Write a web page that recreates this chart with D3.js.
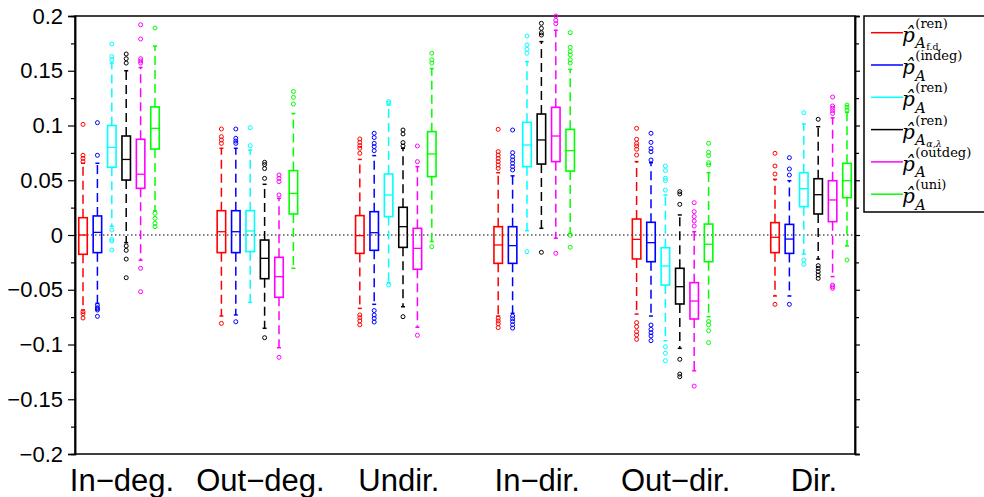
<!DOCTYPE html>
<html lang="en">
<head>
  <meta charset="UTF-8">
  <title>Boxplots by graph type</title>
  <script src="https://d3js.org/d3.v7.min.js"></script>
  <style>
    body { margin: 0; padding: 0; background: #fff; }
    svg { display: block; }
    .tick text { font-family: "Liberation Sans", Arial, sans-serif; }
  </style>
</head>
<body>
  <svg id="chart" width="984" height="497"></svg>

  <script>
    const groups = ["In\u2212deg.", "Out\u2212deg.", "Undir.", "In\u2212dir.", "Out\u2212dir.", "Dir."];
    const series = ["fd", "indeg", "ren", "alpha", "outdeg", "uni"];
    const colors = ["#ff0000", "#0000ff", "#00ffff", "#000000", "#ff00ff", "#00ff00"];

    const legendSup = ["(ren)", "(indeg)", "(ren)", "(ren)", "(outdeg)", "(uni)"];
    const legendSubSub = ["f.d.", "", "", "\u03b1,\u03bb", "", ""];

    // rows = groups, columns = series (same order as colors)
    const whiskLo = [
      [-0.0685, -0.0624, 0.008, -0.007, -0.023, 0.022],
      [-0.074, -0.073, -0.0615, -0.0852, -0.1029, -0.0304],
      [-0.067, -0.0633, -0.0435, -0.0655, -0.0843, -0.006],
      [-0.074, -0.0715, 0.0039, 0.0061, -0.003, 0.0015],
      [-0.0722, -0.074, -0.0965, -0.1035, -0.124, -0.0746],
      [-0.0557, -0.0557, -0.0174, -0.022, -0.038, -0.01]
    ];
    const q1 = [
      [-0.0176, -0.0161, 0.0618, 0.0502, 0.0426, 0.0785],
      [-0.0161, -0.0161, -0.0152, -0.0399, -0.0569, 0.0192],
      [-0.0168, -0.014, 0.0168, -0.0113, -0.0313, 0.0533],
      [-0.0259, -0.0259, 0.0624, 0.0648, 0.067, 0.0584],
      [-0.0219, -0.0244, -0.0457, -0.063, -0.0767, -0.0244],
      [-0.0161, -0.0168, 0.0259, 0.0192, 0.0122, 0.0341]
    ];
    const median = [
      [0.0, 0.0024, 0.080, 0.069, 0.0555, 0.0974],
      [0.003, 0.003, 0.0037, -0.0213, -0.038, 0.038],
      [-0.0006, 0.0021, 0.0365, 0.0076, -0.0122, 0.074],
      [-0.0091, -0.0097, 0.0822, 0.0868, 0.0904, 0.077],
      [-0.004, -0.007, -0.0283, -0.0472, -0.0603, -0.0085],
      [-0.0021, -0.0037, 0.0423, 0.0368, 0.032, 0.0496]
    ];
    const q3 = [
      [0.0158, 0.0174, 0.100, 0.0904, 0.0874, 0.117],
      [0.0222, 0.0222, 0.0222, -0.0046, -0.0204, 0.0588],
      [0.0177, 0.0213, 0.0557, 0.0253, 0.0061, 0.0944],
      [0.0076, 0.0076, 0.1029, 0.1105, 0.1166, 0.0965],
      [0.0146, 0.0116, -0.0116, -0.0304, -0.0435, 0.01],
      [0.0113, 0.0097, 0.0569, 0.0514, 0.0496, 0.0655]
    ];
    const whiskHi = [
      [0.0655, 0.0655, 0.157, 0.150, 0.153, 0.1726],
      [0.0792, 0.0792, 0.0776, 0.0463, 0.0335, 0.111],
      [0.069, 0.0725, 0.1187, 0.0792, 0.0624, 0.152],
      [0.0569, 0.054, 0.1583, 0.1766, 0.187, 0.1513],
      [0.067, 0.066, 0.0365, 0.0183, 0.003, 0.0569],
      [0.0508, 0.0496, 0.1014, 0.0989, 0.107, 0.112]
    ];
    const outliers = [
      [
        [0.101, 0.0728, 0.070, 0.067, -0.070, -0.072, -0.0758],
        [0.1026, 0.0728, -0.0642, -0.0664, -0.0673, -0.0685, -0.0743],
        [0.1744, 0.163, 0.16, 0.0046, -0.004, -0.0055, -0.0137],
        [0.1653, 0.161, 0.157, -0.010, -0.014, -0.022, -0.039],
        [0.192, 0.179, 0.161, 0.159, 0.157, -0.0304, -0.0518],
        [0.189, 0.0198, 0.0152, 0.0107, 0.0076]
      ],
      [
        [0.0968, 0.0898, 0.0868, 0.0837, -0.0807],
        [0.0968, 0.0883, 0.0858, 0.0837, -0.0792],
        [0.098, 0.0816],
        [0.0664, 0.0643, 0.0607, 0.0517, -0.0938],
        [0.0548, 0.0518, 0.0488, 0.0366, -0.1117],
        [0.131, 0.1257, 0.1196]
      ],
      [
        [0.0877, 0.0846, 0.0816, 0.0792, 0.0746, -0.073, -0.0755, -0.0785, -0.082],
        [0.0929, 0.089, 0.0837, 0.0807, 0.077, -0.069, -0.0731, -0.0761, -0.0795],
        [0.1218, 0.1203, -0.0457],
        [0.0959, 0.0923, 0.0844, 0.0813, -0.0746],
        [0.0813, 0.067, -0.0916],
        [0.166, 0.160, 0.157, -0.0107]
      ],
      [
        [0.0965, 0.0761, 0.073, 0.07, 0.067, 0.064, 0.0609, -0.076, -0.0785, -0.081, -0.0846],
        [0.0959, 0.0752, 0.0715, 0.0685, 0.0655, 0.0624, 0.0594, -0.074, -0.0765, -0.079, -0.082, -0.085],
        [0.1817, 0.1735, 0.1696, 0.166, -0.0152],
        [0.1933, 0.1887, 0.1847, 0.1826, -0.0158],
        [0.2, 0.196, 0.193, -0.0167],
        [0.1848, 0.1714, 0.1675, 0.1645, 0.16, 0.157, -0.0003, -0.0112]
      ],
      [
        [0.0974, 0.0874, 0.0837, 0.0813, 0.0783, 0.073, -0.08, -0.0837, -0.0883, -0.0913, -0.0953],
        [0.0929, 0.0846, 0.079, 0.076, 0.0685, -0.0822, -0.0862, -0.0892, -0.0922, -0.0965],
        [0.063, 0.0588, 0.0518, 0.0497, 0.041, -0.102, -0.108, -0.1148],
        [0.0396, 0.0375, 0.028, -0.1135, -0.127, -0.1294],
        [0.0295, 0.0213, 0.0168, 0.0128, 0.0082, -0.138],
        [0.0837, 0.0755, 0.0725, 0.066, 0.064, -0.079, -0.082, -0.0874, -0.0983]
      ],
      [
        [0.0746, 0.063, 0.0557, -0.0633],
        [0.0706, 0.0603, 0.0548, -0.0633],
        [0.1117, -0.0228, -0.0268],
        [0.1057, -0.028, -0.0305, -0.0335, -0.0365, -0.0396],
        [0.126, 0.1178, 0.1157, 0.1135, 0.111, -0.0457, -0.0472, -0.0487],
        [0.1187, 0.1166, 0.114, -0.0228]
      ]
    ];

    const majorTicks = [-0.2, -0.15, -0.1, -0.05, 0, 0.05, 0.1, 0.15, 0.2];
    const minorTicks = [-0.175, -0.125, -0.075, -0.025, 0.025, 0.075, 0.125, 0.175];

    const svg = d3.select("#chart");
    const plotLeft = 75, plotRight = 855, plotTop = 16, plotBottom = 454;

    const y = d3.scaleLinear().domain([-0.2, 0.2]).range([plotBottom, plotTop]);
    const xGroup = d3.scalePoint().domain(groups).range([plotLeft, plotRight]).padding(0.318);
    const xInner = d3.scalePoint().domain(series).range([-36, 36]);

    const boxW = 8.5, capW = 4;

    // build flat table for the marks
    const boxes = [];
    groups.forEach((g, gi) => {
      series.forEach((s, si) => {
        boxes.push({
          g, s, color: colors[si],
          x: xGroup(g) + xInner(s),
          lo: whiskLo[gi][si], q1: q1[gi][si], med: median[gi][si],
          q3: q3[gi][si], hi: whiskHi[gi][si], out: outliers[gi][si]
        });
      });
    });

    const fmt = v => v === 0 ? "0" : (v < 0 ? "\u2212" : "") + d3.format("~g")(Math.abs(+v.toFixed(3)));

    // axes
    const axL = svg.append("g").attr("transform", `translate(${plotLeft},0)`)
      .call(d3.axisLeft(y).tickValues(majorTicks).tickSize(7).tickPadding(5).tickFormat(fmt));
    axL.selectAll("text").attr("font-size", 22).attr("fill", "#000");
    svg.append("g").attr("transform", `translate(${plotLeft},0)`)
      .call(d3.axisLeft(y).tickValues(minorTicks).tickSize(4).tickFormat(""));
    svg.append("g").attr("transform", `translate(${plotRight},0)`)
      .call(d3.axisRight(y).tickValues(majorTicks).tickSize(5).tickFormat(""));
    svg.append("g").attr("transform", `translate(${plotRight},0)`)
      .call(d3.axisRight(y).tickValues(minorTicks).tickSize(4).tickFormat(""));
    svg.selectAll(".domain").attr("stroke-width", 1.5);
    svg.selectAll(".tick line").attr("stroke-width", 1.2);

    svg.append("rect")
      .attr("x", plotLeft).attr("y", plotTop)
      .attr("width", plotRight - plotLeft).attr("height", plotBottom - plotTop)
      .attr("fill", "none").attr("stroke", "#000").attr("stroke-width", 1.5);

    // zero reference line
    svg.append("line")
      .attr("x1", plotLeft).attr("x2", plotRight)
      .attr("y1", y(0)).attr("y2", y(0))
      .attr("stroke", "#000").attr("stroke-width", 1)
      .attr("stroke-dasharray", "1.5,2.5");

    // group labels
    svg.append("g").selectAll("text")
      .data(groups)
      .enter()
      .append("text")
      .attr("x", d => xGroup(d) + 3)
      .attr("y", 491)
      .attr("text-anchor", "middle")
      .attr("font-family", "Liberation Sans, Arial, sans-serif")
      .attr("font-size", 31)
      .text(d => d);

    const bx = svg.append("g").selectAll("g")
      .data(boxes)
      .enter()
      .append("g")
      .attr("stroke", d => d.color)
      .attr("fill", "none");

    // whiskers
    bx.append("line")
      .attr("x1", d => d.x).attr("x2", d => d.x)
      .attr("y1", d => y(d.q3)).attr("y2", d => y(d.hi))
      .attr("stroke-width", 1.5).attr("stroke-dasharray", "9,5");
    bx.append("line")
      .attr("x1", d => d.x).attr("x2", d => d.x)
      .attr("y1", d => y(d.q1)).attr("y2", d => y(d.lo))
      .attr("stroke-width", 1.5).attr("stroke-dasharray", "9,5");
    bx.append("line")
      .attr("x1", d => d.x - capW / 2).attr("x2", d => d.x + capW / 2)
      .attr("y1", d => y(d.hi)).attr("y2", d => y(d.hi))
      .attr("stroke-width", 1.5);
    bx.append("line")
      .attr("x1", d => d.x - capW / 2).attr("x2", d => d.x + capW / 2)
      .attr("y1", d => y(d.lo)).attr("y2", d => y(d.lo))
      .attr("stroke-width", 1.5);

    // boxes and medians
    bx.append("rect")
      .attr("x", d => d.x - boxW / 2)
      .attr("y", d => y(d.q3))
      .attr("width", boxW)
      .attr("height", d => y(d.q1) - y(d.q3))
      .attr("stroke-width", 1.6);
    bx.append("line")
      .attr("x1", d => d.x - boxW / 2).attr("x2", d => d.x + boxW / 2)
      .attr("y1", d => y(d.med)).attr("y2", d => y(d.med))
      .attr("stroke-width", 1.3);

    // outliers
    bx.selectAll("circle")
      .data(d => d.out.map(v => ({ v, x: d.x })))
      .enter()
      .append("circle")
      .attr("cx", d => d.x)
      .attr("cy", d => y(d.v))
      .attr("r", 2)
      .attr("stroke-width", 1);

    // legend
    const lg = svg.append("g");
    lg.append("rect")
      .attr("x", 864).attr("y", 16)
      .attr("width", 130).attr("height", 196)
      .attr("fill", "#fff").attr("stroke", "#000").attr("stroke-width", 1.5);

    const rows = lg.selectAll("g.row")
      .data(colors)
      .enter()
      .append("g")
      .attr("class", "row")
      .attr("transform", (d, i) => `translate(0,${32.7 + i * 32.3})`);

    rows.append("line")
      .attr("x1", 871).attr("x2", 903)
      .attr("y1", 0).attr("y2", 0)
      .attr("stroke", d => d).attr("stroke-width", 1.5);

    const serif = "DejaVu Serif, Liberation Serif, serif";
    const pX = 902;
    rows.each(function (d, i) {
      const row = d3.select(this);
      const p = row.append("text")
        .attr("x", pX).attr("y", 9)
        .attr("font-family", serif).attr("font-style", "italic").attr("font-size", 20)
        .text("p\u0302");
      const after = pX + p.node().getComputedTextLength() + 0.5;
      row.append("text")
        .attr("x", after).attr("y", -5)
        .attr("font-family", serif).attr("font-size", 13)
        .text(legendSup[i]);
      const a = row.append("text")
        .attr("x", after).attr("y", 15.5)
        .attr("font-family", serif).attr("font-style", "italic").attr("font-size", 14.5)
        .text("A");
      if (legendSubSub[i]) {
        row.append("text")
          .attr("x", after + a.node().getComputedTextLength() + 0.5).attr("y", 17.5)
          .attr("font-family", serif).attr("font-size", 9.5)
          .attr("font-style", i === 3 ? "italic" : "normal")
          .text(legendSubSub[i]);
      }
    });
  </script>
</body>
</html>
